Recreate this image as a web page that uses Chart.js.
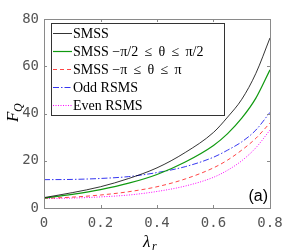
<!DOCTYPE html>
<html><head><meta charset="utf-8">
<script src="https://cdn.jsdelivr.net/npm/chart.js@4/dist/chart.umd.min.js"></script>
<style>html,body{margin:0;padding:0;background:#fff}#c{display:block}</style>
</head><body>
<canvas id="c" width="296" height="252"></canvas>
<script>
const lambda   = [0, 0.1, 0.2, 0.3, 0.4, 0.5, 0.6, 0.65, 0.7, 0.75, 0.8];
const smss     = [4.4, 6.5, 9.0, 12.5, 17.0, 23.5, 32.0, 38.5, 46.0, 57.0, 72.0];
const smssHalf = [4.2, 5.8, 7.8, 10.5, 14.2, 19.5, 26.5, 31.5, 38.0, 46.5, 58.5];
const smssFull = [4.1, 4.6, 5.5, 6.9, 9.0, 12.3, 17.0, 20.3, 24.5, 29.5, 36.0];
const oddRsms  = [12.0, 12.1, 12.5, 13.3, 15.0, 17.5, 21.5, 24.5, 28.0, 33.0, 40.5];
const evenRsms = [4.0, 4.2, 4.7, 5.5, 7.0, 9.3, 13.0, 16.0, 20.0, 25.5, 33.0];
const xTicks = [0, 0.2, 0.4, 0.6, 0.8];
const yTicks = [0, 20, 40, 60, 80];
const legendLabels = ['SMSS', 'SMSS \u2212\u03c0/2 \u2009\u2264\u2009 \u03b8 \u2009\u2264\u2009 \u03c0/2', 'SMSS \u2212\u03c0 \u2009\u2264\u2009 \u03b8 \u2009\u2264\u2009 \u03c0', 'Odd RSMS', 'Even RSMS'];

const series = [smss, smssHalf, smssFull, oddRsms, evenRsms];
const styles = [
  {color:'#000000', width:0.8, dash:[]},
  {color:'#109a10', width:1.2, dash:[]},
  {color:'#ff3030', width:0.9, dash:[4,3]},
  {color:'#2020ee', width:0.9, dash:[6,2,1.5,2]},
  {color:'#ff00ff', width:1.0, dash:[1,1.5]}
];
const datasets = series.map((s,i)=>({
  label: legendLabels[i],
  data: lambda.map((x,j)=>({x:x, y:s[j]})),
  borderColor: styles[i].color,
  borderWidth: styles[i].width,
  borderDash: styles[i].dash,
  pointRadius: 0,
  fill: false,
  cubicInterpolationMode: 'monotone'
}));

const frame = {
  id:'frame',
  afterDraw(chart){
    const ctx = chart.ctx, a = chart.chartArea;
    const xs = chart.scales.x, ys = chart.scales.y;
    ctx.save();
    ctx.strokeStyle = '#8a8a8a'; ctx.lineWidth = 1; ctx.setLineDash([]);
    ctx.strokeRect(Math.round(a.left)+0.5, Math.round(a.top)+0.5, Math.round(a.right-a.left), Math.round(a.bottom-a.top));
    ctx.beginPath();
    xTicks.forEach(v=>{const p=Math.round(xs.getPixelForValue(v))+0.5;
      ctx.moveTo(p,a.bottom); ctx.lineTo(p,a.bottom-3); ctx.moveTo(p,a.top); ctx.lineTo(p,a.top+3);});
    yTicks.forEach(v=>{const p=Math.round(ys.getPixelForValue(v))+0.5;
      ctx.moveTo(a.left,p); ctx.lineTo(a.left+3,p); ctx.moveTo(a.right,p); ctx.lineTo(a.right-3,p);});
    ctx.stroke();
    // legend
    const lx = a.left+7, ly = a.top+4, lw = 173, lh = 92;
    ctx.fillStyle = '#fff'; ctx.fillRect(lx, ly, lw, lh);
    ctx.strokeStyle = '#333'; ctx.strokeRect(lx+0.5, ly+0.5, lw, lh);
    ctx.font = '14px "Liberation Serif", serif';
    ctx.textBaseline = 'middle'; ctx.textAlign = 'left';
    legendLabels.forEach((t,i)=>{
      const y = ly + 10 + i*18;
      const st = styles[i];
      ctx.beginPath(); ctx.strokeStyle = st.color; ctx.lineWidth = st.width; ctx.setLineDash(st.dash);
      ctx.moveTo(lx+2, y+0.5); ctx.lineTo(lx+21, y+0.5); ctx.stroke();
      ctx.setLineDash([]);
      ctx.fillStyle = '#000'; ctx.fillText(t, lx+22, y+1);
    });
    // panel label
    ctx.font = '16px "Liberation Sans", Arial, sans-serif';
    ctx.fillStyle = '#000'; ctx.textAlign = 'right'; ctx.textBaseline = 'middle';
    ctx.fillText('(a)', a.right-2, a.bottom-11);
    // axis titles
    ctx.font = 'italic 17px "Liberation Serif", serif';
    ctx.textAlign = 'left'; ctx.textBaseline = 'alphabetic';
    ctx.fillText('\u03bb', 143, 247);
    ctx.font = 'italic 12px "Liberation Serif", serif';
    ctx.fillText('r', 152, 250);
    ctx.save();
    ctx.translate(18, 122); ctx.rotate(-Math.PI/2);
    ctx.font = 'italic 17px "Liberation Serif", serif';
    ctx.fillText('F', 0, 0);
    ctx.font = 'italic 12px "Liberation Serif", serif';
    ctx.fillText('Q', 10, 4);
    ctx.restore();
    ctx.restore();
  }
};

new Chart(document.getElementById('c'), {
  type:'line',
  data:{datasets},
  options:{
    responsive:false, animation:false,
    layout:{padding:{left:0, right:26, top:19, bottom:0}},
    plugins:{legend:{display:false}, tooltip:{enabled:false}},
    scales:{
      x:{type:'linear', min:0, max:0.8,
         afterBuildTicks(s){ s.ticks = xTicks.map(v=>({value:v})); },
         afterFit(s){ s.height = 44; },
         grid:{display:false, drawTicks:false}, border:{display:false},
         ticks:{padding:7, color:'#555', font:{family:'"DejaVu Sans Mono", monospace', size:14},
                maxRotation:0, callback:v=>String(v)}},
      y:{min:0, max:80,
         afterBuildTicks(s){ s.ticks = yTicks.map(v=>({value:v})); },
         afterFit(s){ s.width = 44; },
         grid:{display:false, drawTicks:false}, border:{display:false},
         ticks:{padding:5, color:'#555', font:{family:'"DejaVu Sans Mono", monospace', size:14},
                callback:v=>String(v)}}
    }
  },
  plugins:[frame]
});
</script>
</body></html>
